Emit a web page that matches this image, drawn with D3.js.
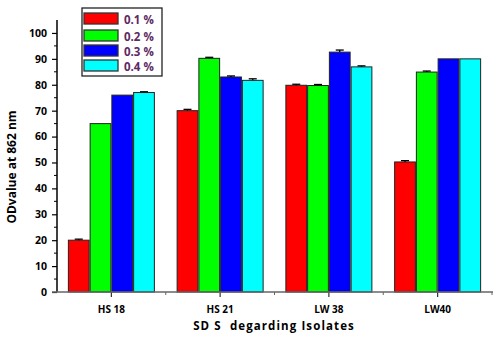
<!DOCTYPE html>
<html lang="en">
<head>
<meta charset="UTF-8">
<title>OD value chart</title>
<script src="https://d3js.org/d3.v7.min.js"></script>
<style>
  body { margin: 0; background: #fff; }
  text { font-family: "Open Sans", "DejaVu Sans", sans-serif; font-weight: bold; }
</style>
</head>
<body>
<svg id="chart" width="500" height="341"></svg>
<script>
const isolates = ["HS 18", "HS 21", "LW 38", "LW40"];
const concentrations = ["0.1 %", "0.2 %", "0.3 %", "0.4 %"];
const colors = ["#ff0000", "#00ff00", "#0000ff", "#00ffff"];
// values per concentration, one per isolate
const values = [
  [20, 70, 79.8, 50.2],
  [65, 90.2, 79.7, 84.9],
  [76, 83, 92.6, 90],
  [77, 81.7, 86.9, 90]
];
const errors = [
  [0.4, 0.5, 0.4, 0.5],
  [0, 0.4, 0.4, 0.4],
  [0, 0.4, 0.8, 0],
  [0.3, 0.6, 0.4, 0]
];
const yTicks = [0, 10, 20, 30, 40, 50, 60, 70, 80, 90, 100];

const svg = d3.select("#chart");
const pLeft = 57, pRight = 493, pTop = 20, pBottom = 292;

const x = d3.scaleBand().domain(isolates).range([pLeft, pLeft + 435]).padding(0);
const xs = d3.scaleBand().domain(concentrations).range([0, x.bandwidth()]).paddingInner(0).paddingOuter(0.5);
const y = d3.scaleLinear().domain([0, 105]).range([pBottom, pTop]);

// bars
const rows = values.map((vals, i) => vals.map((v, j) => ({ c: i, g: j, v: v, e: errors[i][j] }))).flat();

const bars = svg.append("g");
bars.selectAll("rect")
  .data(rows)
  .enter().append("rect")
    .attr("x", d => x(isolates[d.g]) + xs(concentrations[d.c]) + 0.5)
    .attr("y", d => y(d.v))
    .attr("width", xs.bandwidth() - 1)
    .attr("height", d => y(0) - y(d.v))
    .attr("fill", d => colors[d.c])
    .attr("stroke", "#222")
    .attr("stroke-width", 1);

// error bars
const eb = svg.append("g").attr("stroke", "#000").attr("stroke-width", 1.3);
rows.filter(d => d.e > 0).forEach(d => {
  const cx = x(isolates[d.g]) + xs(concentrations[d.c]) + xs.bandwidth() / 2;
  eb.append("line").attr("x1", cx).attr("x2", cx).attr("y1", y(d.v)).attr("y2", y(d.v + d.e));
  eb.append("line").attr("x1", cx - 4).attr("x2", cx + 4).attr("y1", y(d.v + d.e)).attr("y2", y(d.v + d.e));
});

// y axis
const yAxis = d3.axisLeft(y).tickValues(yTicks).tickSize(5).tickPadding(5);
const gy = svg.append("g").attr("transform", `translate(${pLeft},0)`).call(yAxis);
gy.select(".domain").remove();
gy.append("line").attr("x1", 0).attr("x2", 0).attr("y1", pTop).attr("y2", pBottom).attr("stroke", "#000").attr("stroke-width", 1.5);
gy.selectAll(".tick line").attr("stroke", "#000").attr("stroke-width", 1.2);
gy.selectAll(".tick text").attr("font-size", 10.5).attr("fill", "#000");
// minor ticks
gy.selectAll(".minor")
  .data(d3.range(5, 105, 10))
  .enter().append("line")
    .attr("x1", -3).attr("x2", 0)
    .attr("y1", d => y(d)).attr("y2", d => y(d))
    .attr("stroke", "#000").attr("stroke-width", 1);

// x axis
const xAxis = d3.axisBottom(x).tickSize(5).tickPadding(9);
const gx = svg.append("g").attr("transform", `translate(0,${pBottom})`).call(xAxis);
gx.select(".domain").remove();
gx.append("line").attr("x1", pLeft - 5).attr("x2", pRight).attr("y1", 0).attr("y2", 0).attr("stroke", "#666").attr("stroke-width", 1.5);
gx.selectAll(".tick line").attr("stroke", "#333").attr("stroke-width", 1.2);
gx.selectAll(".tick text").attr("font-size", 10).attr("fill", "#000");
gx.selectAll(".minor")
  .data(isolates)
  .enter().append("line")
    .attr("x1", d => x(d) + x.bandwidth()).attr("x2", d => x(d) + x.bandwidth())
    .attr("y1", 0).attr("y2", 3)
    .attr("stroke", "#666").attr("stroke-width", 1);

// axis titles
svg.append("text")
  .attr("transform", "translate(16,167) rotate(-90)")
  .attr("text-anchor", "middle")
  .attr("font-size", 12)
  .text("ODvalue at 862 nm");

svg.append("text")
  .attr("x", 274).attr("y", 330)
  .attr("text-anchor", "middle")
  .attr("font-size", 11.5)
  .attr("letter-spacing", 1.1)
  .attr("xml:space", "preserve")
  .text("SD S  degarding Isolates");

// legend
const lg = svg.append("g").attr("transform", "translate(82,8)");
lg.append("rect").attr("width", 80).attr("height", 68).attr("fill", "#fff").attr("stroke", "#222").attr("stroke-width", 1.3);
const rowY = [5, 22, 37, 52];
const items = lg.selectAll(".item")
  .data(concentrations)
  .enter().append("g")
    .attr("transform", (d, i) => `translate(2,${rowY[i]})`);
items.append("rect")
  .attr("width", 34).attr("height", 11)
  .attr("fill", (d, i) => colors[i])
  .attr("stroke", "#333").attr("stroke-width", 1.3);
items.append("text")
  .attr("x", 40).attr("y", 10.5)
  .attr("font-size", 11.5)
  .attr("fill", "#5e2a63")
  .text(d => d);
</script>
</body>
</html>
